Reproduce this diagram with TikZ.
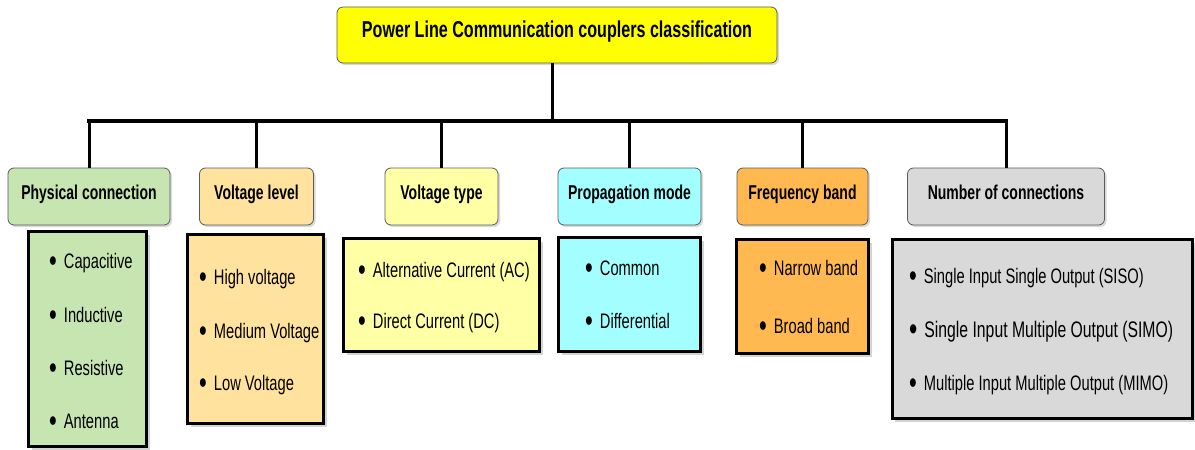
\documentclass[tikz,border=0pt]{standalone}
\usepackage{fontspec}
\setmainfont{Liberation Sans}[FakeStretch=0.7]
\usetikzlibrary{shadows}

\definecolor{headyellow}{HTML}{FFFF00}
\definecolor{physgreen}{HTML}{C6E5B1}
\definecolor{levelpeach}{HTML}{FFE29E}
\definecolor{typeyellow}{HTML}{FFFFA6}
\definecolor{propcyan}{HTML}{A3FFFF}
\definecolor{freqorange}{HTML}{FFB950}
\definecolor{conngray}{HTML}{D9D9D9}
\definecolor{rim}{HTML}{5A5A5A}

\newcommand{\dotmark}{\raisebox{-.15em}{\scalebox{1.5}{\textbullet}}\hspace{7pt}}

\begin{document}
\begin{tikzpicture}[x=1pt, y=-1pt, every node/.style={text=black},
  head/.style={rounded corners=6pt, draw=rim, line width=.8pt, inner sep=0pt,
    minimum height=57pt, text height=.75em, text depth=.22em,
    font=\bfseries\fontsize{20}{24}\selectfont,
    drop shadow={shadow xshift=2pt, shadow yshift=-2pt, opacity=.3}},
  list/.style={draw=black, line width=3pt, inner sep=0pt,
    drop shadow={shadow xshift=3pt, shadow yshift=-3pt, opacity=.35}},
  item/.style={anchor=base west, inner sep=0pt, font=\fontsize{21}{25}\selectfont},
  busline/.style={line width=4.5pt, line cap=rect},
  dropline/.style={line width=3pt}]
  \useasboundingbox (0,0) rectangle (1195,450);

  % Root of the tree.
  \node[head, fill=headyellow, minimum width=440pt, minimum height=56pt,
        font=\bfseries\fontsize{23}{27}\selectfont] (title) at (557,35)
        {Power Line Communication couplers classification};

  % The six classification criteria.
  \node[head, fill=physgreen,  minimum width=162pt] (phys) at (89,196.5)   {Physical connection};
  \node[head, fill=levelpeach, minimum width=114pt] (vlev) at (256.5,196.5) {Voltage level};
  \node[head, fill=typeyellow, minimum width=113pt] (vtyp) at (441.5,196.5) {Voltage type};
  \node[head, fill=propcyan,   minimum width=143pt] (prop) at (629.5,196.5) {Propagation mode};
  \node[head, fill=freqorange, minimum width=131pt] (freq) at (802.5,196.5) {Frequency band};
  \node[head, fill=conngray,   minimum width=197pt] (ncon) at (1006,196.5)  {Number of connections};

  % Bus between the root and the criteria.
  \coordinate (bus) at (552,121);
  \draw[dropline] (title.south -| bus) -- (bus);
  \draw[busline] (phys.north |- bus) -- (ncon.north |- bus);
  \foreach \c in {phys,vlev,vtyp,prop,freq,ncon}
    \draw[dropline] (\c.north |- bus) -- (\c.north);

  % Boxes listing the members of each criterion.
  \node[list, fill=physgreen,  minimum width=118pt, minimum height=215pt] (physlist) at (87.5,339)  {};
  \node[list, fill=levelpeach, minimum width=136pt, minimum height=189pt] (vlevlist) at (255.5,329) {};
  \node[list, fill=typeyellow, minimum width=196pt, minimum height=113pt] (vtyplist) at (441.5,295) {};
  \node[list, fill=propcyan,   minimum width=142pt, minimum height=114pt] (proplist) at (629.5,294.5) {};
  \node[list, fill=freqorange, minimum width=132pt, minimum height=114pt] (freqlist) at (802.5,296.5) {};
  \node[list, fill=conngray,   minimum width=300pt, minimum height=179pt] (nconlist) at (1042,329)  {};

  \node[item] (cap)  at (49,268)  {\dotmark Capacitive};
  \node[item] (ind)  at (49,322)  {\dotmark Inductive};
  \node[item] (res)  at (49,375)  {\dotmark Resistive};
  \node[item] (ant)  at (49,428)  {\dotmark Antenna};

  \node[item] (hv)   at (199,284) {\dotmark High voltage};
  \node[item] (mv)   at (199,338) {\dotmark Medium Voltage};
  \node[item] (lv)   at (199,390) {\dotmark Low Voltage};

  \node[item] (ac)   at (358,277) {\dotmark Alternative Current (AC)};
  \node[item] (dc)   at (358,328) {\dotmark Direct Current (DC)};

  \node[item] (com)  at (585,275) {\dotmark Common};
  \node[item] (diff) at (585,328) {\dotmark Differential};

  \node[item] (nb)   at (759,275) {\dotmark Narrow band};
  \node[item] (bb)   at (759,333) {\dotmark Broad band};

  \node[item] (siso) at (909,283) {\dotmark Single Input Single Output (SISO)};
  \node[item, font=\fontsize{22.5}{26}\selectfont] (simo) at (909,337)
        {\dotmark Single Input Multiple Output (SIMO)};
  \node[item] (mimo) at (909,390) {\dotmark Multiple Input Multiple Output (MIMO)};
\end{tikzpicture}
\end{document}
